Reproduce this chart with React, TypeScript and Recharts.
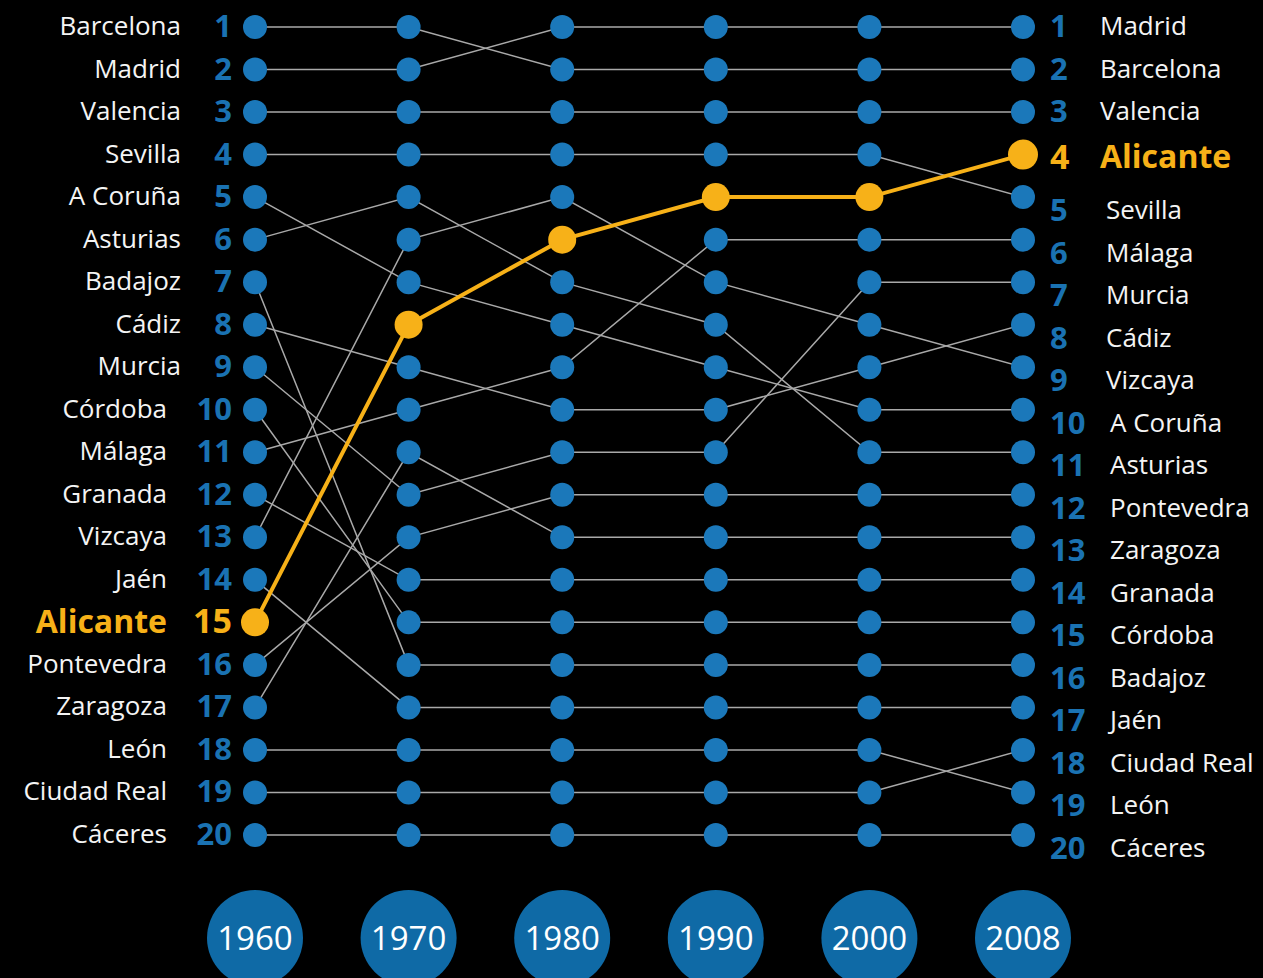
import React from 'react'
import { LineChart, Line, XAxis, YAxis } from 'recharts'

// years shown as columns (evenly spaced, like the original)
const years = ['1960', '1970', '1980', '1990', '2000', '2008']

// provinces ordered by rank (1st .. 20th) for each year
const rank1960 = ['Barcelona', 'Madrid', 'Valencia', 'Sevilla', 'A Coruña', 'Asturias', 'Badajoz', 'Cádiz', 'Murcia', 'Córdoba', 'Málaga', 'Granada', 'Vizcaya', 'Jaén', 'Alicante', 'Pontevedra', 'Zaragoza', 'León', 'Ciudad Real', 'Cáceres']
const rank1970 = ['Barcelona', 'Madrid', 'Valencia', 'Sevilla', 'Asturias', 'Vizcaya', 'A Coruña', 'Alicante', 'Cádiz', 'Málaga', 'Zaragoza', 'Murcia', 'Pontevedra', 'Granada', 'Córdoba', 'Badajoz', 'Jaén', 'León', 'Ciudad Real', 'Cáceres']
const rank1980 = ['Madrid', 'Barcelona', 'Valencia', 'Sevilla', 'Vizcaya', 'Alicante', 'Asturias', 'A Coruña', 'Málaga', 'Cádiz', 'Murcia', 'Pontevedra', 'Zaragoza', 'Granada', 'Córdoba', 'Badajoz', 'Jaén', 'León', 'Ciudad Real', 'Cáceres']
const rank1990 = ['Madrid', 'Barcelona', 'Valencia', 'Sevilla', 'Alicante', 'Málaga', 'Vizcaya', 'Asturias', 'A Coruña', 'Cádiz', 'Murcia', 'Pontevedra', 'Zaragoza', 'Granada', 'Córdoba', 'Badajoz', 'Jaén', 'León', 'Ciudad Real', 'Cáceres']
const rank2000 = ['Madrid', 'Barcelona', 'Valencia', 'Sevilla', 'Alicante', 'Málaga', 'Murcia', 'Vizcaya', 'Cádiz', 'A Coruña', 'Asturias', 'Pontevedra', 'Zaragoza', 'Granada', 'Córdoba', 'Badajoz', 'Jaén', 'León', 'Ciudad Real', 'Cáceres']
const rank2008 = ['Madrid', 'Barcelona', 'Valencia', 'Alicante', 'Sevilla', 'Málaga', 'Murcia', 'Cádiz', 'Vizcaya', 'A Coruña', 'Asturias', 'Pontevedra', 'Zaragoza', 'Granada', 'Córdoba', 'Badajoz', 'Jaén', 'Ciudad Real', 'León', 'Cáceres']

const rankTicks = [1, 2, 3, 4, 5, 6, 7, 8, 9, 10, 11, 12, 13, 14, 15, 16, 17, 18, 19, 20]
const highlight = 'Alicante'

const rankings = [rank1960, rank1970, rank1980, rank1990, rank2000, rank2008]
const provinces = rank1960

const data = years.map((year, i) => {
  const row: Record<string, string | number> = { year }
  rankings[i].forEach((name, j) => {
    row[name] = j + 1
  })
  return row
})

const FONT = '"Open Sans", sans-serif'
const BLUE = '#1b78ba'
const NUM_BLUE = '#1a72b2'
const ORANGE = '#f7b118'
const GREY = '#a9a9a9'

const LeftTick = (props: any) => {
  const { y, payload } = props
  const rank = payload.value as number
  const name = rank1960[rank - 1]
  const hi = name === highlight
  const nameEnd = rank < 10 ? 181 : 167
  return (
    <g fontFamily={FONT}>
      <text x={hi ? 167 : nameEnd} y={y - 2} textAnchor='end' dominantBaseline='central'
        fill={hi ? ORANGE : '#f4f4f4'} fontSize={hi ? 32 : 26} fontWeight={hi ? 700 : 400}>
        {name}
      </text>
      <text x={232} y={y - 2} textAnchor='end' dominantBaseline='central'
        fill={hi ? ORANGE : NUM_BLUE} fontSize={hi ? 34 : 31} fontWeight={700}>
        {rank}
      </text>
    </g>
  )
}

const RightTick = (props: any) => {
  const { y, payload } = props
  const rank = payload.value as number
  const name = rank2008[rank - 1]
  const hi = name === highlight
  const dy = rank >= 5 ? 12 : rank === 4 ? 1 : -2
  const nameX = rank <= 4 ? 1100 : rank < 10 ? 1106 : 1110
  return (
    <g fontFamily={FONT}>
      <text x={1050} y={y + dy} textAnchor='start' dominantBaseline='central'
        fill={hi ? ORANGE : NUM_BLUE} fontSize={hi ? 34 : 31} fontWeight={700}>
        {rank}
      </text>
      <text x={nameX} y={y + dy} textAnchor='start' dominantBaseline='central'
        fill={hi ? ORANGE : '#f4f4f4'} fontSize={hi ? 32 : 26} fontWeight={hi ? 700 : 400}>
        {name}
      </text>
    </g>
  )
}

const YearTick = (props: any) => {
  const { x, payload } = props
  return (
    <g fontFamily={FONT}>
      <circle cx={x} cy={938} r={48} fill='#0f6aa6' />
      <text x={x} y={937} textAnchor='middle' dominantBaseline='central' fill='#ffffff' fontSize={33}>
        {payload.value}
      </text>
    </g>
  )
}

const HighlightDot = (props: any) => {
  const { cx, cy, index } = props
  if (cx == null || cy == null) return null
  return <circle key={index} cx={cx} cy={cy} r={index === years.length - 1 ? 15 : 14} fill={ORANGE} />
}

const others = provinces.filter(p => p !== highlight)

export default function App() {
  return (
    <div style={{ position: 'absolute', left: 0, top: 0, width: 1263, height: 978, background: '#000', overflow: 'hidden' }}>
      <LineChart width={1263} height={978} data={data} margin={{ top: 27, right: 0, bottom: 0, left: 0 }}>
        <XAxis dataKey='year' axisLine={false} tickLine={false} height={143} interval={0}
          padding={{ left: 0, right: 0 }} tick={<YearTick />} />
        <YAxis yAxisId='left' type='number' domain={[1, 20]} reversed ticks={rankTicks} interval={0}
          width={255} axisLine={false} tickLine={false} tick={<LeftTick />} />
        <YAxis yAxisId='right' orientation='right' type='number' domain={[1, 20]} reversed ticks={rankTicks}
          interval={0} width={240} axisLine={false} tickLine={false} tick={<RightTick />} />

        {others.map(p => (
          <Line key={p + '-line'} yAxisId='left' type='linear' dataKey={p} stroke={GREY} strokeWidth={1.5}
            dot={false} activeDot={false} isAnimationActive={false} />
        ))}
        {/* dots drawn in a second pass (on the right axis, same scale) so lines stay underneath */}
        {others.map(p => (
          <Line key={p + '-dots'} yAxisId='right' type='linear' dataKey={p} stroke='none'
            dot={{ r: 12, fill: BLUE, stroke: 'none' }} activeDot={false} isAnimationActive={false} />
        ))}
        <Line yAxisId='left' type='linear' dataKey={highlight} stroke={ORANGE} strokeWidth={4}
          dot={<HighlightDot />} activeDot={false} isAnimationActive={false} />
      </LineChart>
    </div>
  )
}
